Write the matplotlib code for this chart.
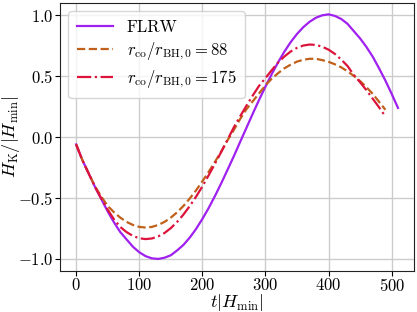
import matplotlib

matplotlib.use("Agg")
import matplotlib.pyplot as plt
import numpy as np

plt.rcParams["font.family"] = ["cmr10", "DejaVu Serif"]
plt.rcParams["mathtext.fontset"] = "cm"
plt.rcParams["axes.formatter.use_mathtext"] = True
plt.rcParams["font.size"] = 12
plt.rcParams["xtick.major.pad"] = 1
plt.rcParams["ytick.major.pad"] = 1.5

# time axis t|H_min|
t_flrw = np.arange(0, 511, 10)
t_bh = np.arange(0, 491, 10)

h_flrw = [-0.06, -0.19, -0.30, -0.41, -0.51, -0.61, -0.70, -0.78, -0.84, -0.90,
          -0.945, -0.977, -0.995, -1.0, -0.99, -0.97, -0.93, -0.885, -0.825, -0.754,
          -0.672, -0.582, -0.483, -0.378, -0.267, -0.155, -0.038, 0.078, 0.194, 0.307,
          0.415, 0.518, 0.614, 0.702, 0.780, 0.847, 0.903, 0.947, 0.98, 1.0,
          1.008, 0.995, 0.97, 0.93, 0.87, 0.81, 0.74, 0.66, 0.565, 0.465,
          0.355, 0.24]

h_88 = [-0.06, -0.19, -0.30, -0.405, -0.49, -0.565, -0.617, -0.661, -0.696, -0.721,
        -0.737, -0.742, -0.737, -0.721, -0.696, -0.661, -0.617, -0.565, -0.504, -0.437,
        -0.363, -0.285, -0.203, -0.117, -0.025, 0.06, 0.15, 0.23, 0.295, 0.36,
        0.425, 0.48, 0.525, 0.565, 0.595, 0.62, 0.635, 0.643, 0.643, 0.632,
        0.618, 0.598, 0.573, 0.54, 0.503, 0.46, 0.41, 0.355, 0.29, 0.225]

h_175 = [-0.06, -0.19, -0.30, -0.41, -0.505, -0.595, -0.675, -0.738, -0.780, -0.811,
         -0.830, -0.837, -0.832, -0.815, -0.787, -0.747, -0.696, -0.636, -0.566, -0.489,
         -0.405, -0.313, -0.218, -0.121, -0.02, 0.082, 0.172, 0.259, 0.343, 0.422,
         0.485, 0.55, 0.612, 0.662, 0.703, 0.733, 0.752, 0.76, 0.757, 0.742,
         0.718, 0.683, 0.637, 0.584, 0.51, 0.45, 0.385, 0.315, 0.245, 0.17]

fig = plt.figure(figsize=(4.17, 3.12), dpi=100)
ax = fig.add_axes([0.144, 0.131, 0.849, 0.859])

ax.plot(t_flrw, h_flrw, color="#a020f0", lw=1.6, ls="-", label="FLRW")
ax.plot(t_bh, h_88, color="#c0601a", lw=1.6, ls="--",
        label=r"$r_{\mathrm{co}}/r_{\mathrm{BH,0}}=88$")
ax.plot(t_bh, h_175, color="#dc143c", lw=1.6, ls="-.",
        label=r"$r_{\mathrm{co}}/r_{\mathrm{BH,0}}=175$")

ax.set_ylim(-1.1, 1.1)
ax.set_xticks([0, 100, 200, 300, 400, 500])
ax.set_yticks([-1.0, -0.5, 0.0, 0.5, 1.0])
ax.grid(True, color="#cccccc", lw=1.0)
ax.set_axisbelow(True)
for s in ax.spines.values():
    s.set_color("#222222")
ax.set_xlabel(r"$t|H_{\mathrm{min}}|$", fontsize=13, labelpad=-1.5)
ax.set_ylabel(r"$H_{\mathrm{K}}/|H_{\mathrm{min}}|$", fontsize=13, labelpad=-3.5)
ax.legend(loc="upper left", fontsize=12, handlelength=2.2, labelspacing=0.35,
          borderpad=0.5)

fig.savefig("out.png", dpi=100)
